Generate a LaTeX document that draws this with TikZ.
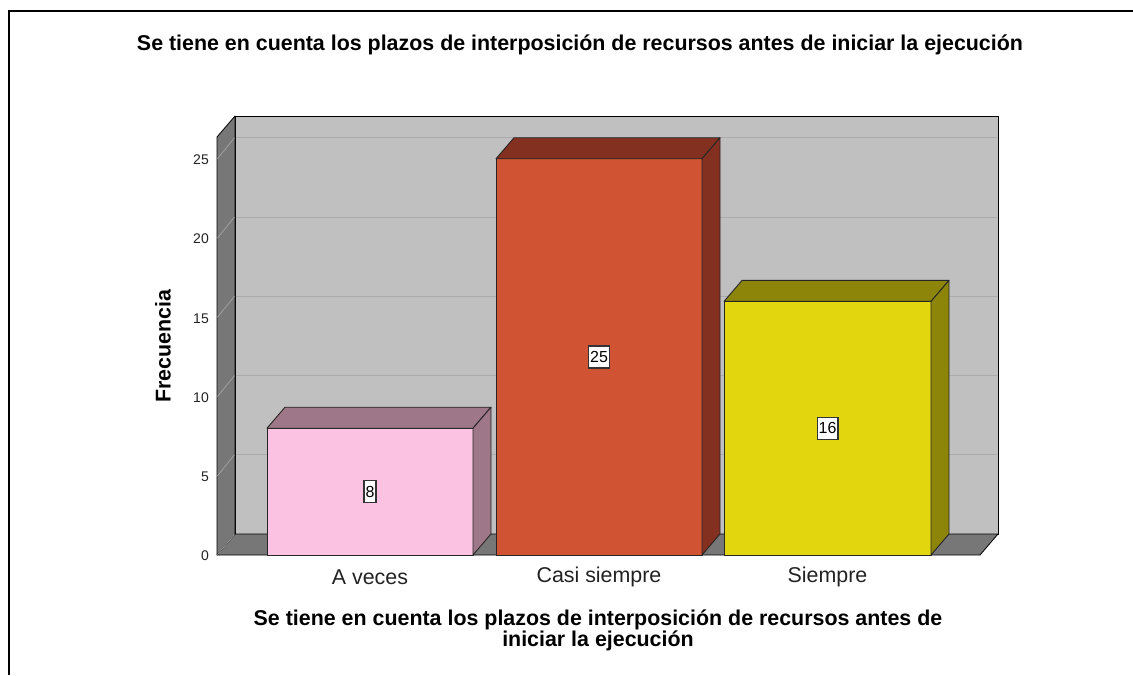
\documentclass[tikz,border=0pt]{standalone}
\usepackage{fontspec}
\setmainfont{Liberation Sans}
\definecolor{wallgray}{HTML}{C0C0C0}
\definecolor{sidegray}{HTML}{777777}
\definecolor{gridgray}{HTML}{ABABAB}
\definecolor{sidegrid}{HTML}{A0A0A0}
\definecolor{pinkfront}{HTML}{FCC2E2}
\definecolor{pinkside}{HTML}{9E7888}
\definecolor{redfront}{HTML}{D05433}
\definecolor{redside}{HTML}{843020}
\definecolor{yelfront}{HTML}{E2D60F}
\definecolor{yelside}{HTML}{8C850A}
\definecolor{labgray}{HTML}{222222}
\tikzset{
  panel/.style={draw=black, line width=0.8pt, line join=round},
  gridline/.style={draw=gridgray, line width=1pt},
  sidegridline/.style={draw=sidegrid, line width=0.8pt},
  barface/.style={draw=black!85, line width=0.9pt, line join=round},
  valbox/.style={draw=black!80, fill=white, line width=1.2pt, inner sep=1.5pt, minimum height=22pt, font=\fontsize{16}{18}\selectfont},
  ticklab/.style={anchor=east, inner sep=0pt, font=\fontsize{14}{16}\selectfont, text=labgray},
  catlab/.style={font=\fontsize{21.4}{24}\selectfont, text=labgray},
  boldlab/.style={font=\bfseries\fontsize{21.4}{20}\selectfont},
}
\newcommand\cubebar[5]{%
  \filldraw[barface, fill=#4] (#1,555) rectangle (#2,#3);
  \filldraw[barface, fill=#5] (#1,#3) -- ++(18,-21) -- ({#2+18},{#3-21}) -- (#2,#3) -- cycle;
  \filldraw[barface, fill=#5] (#2,555) -- (#2,#3) -- ({#2+18},{#3-21}) -- ({#2+18},534) -- cycle;
}
\begin{document}
\begin{tikzpicture}[x=1pt,y=-1pt]
\useasboundingbox (0,0) rectangle (1133,675);
% outer frame
\draw[line width=2pt] (1133,11) -- (9,11) -- (9,675);
% title
\node[boldlab] (title) at (580,45) {Se tiene en cuenta los plazos de interposición de recursos antes de iniciar la ejecución};
% back wall
\filldraw[panel, fill=wallgray] (235,116) rectangle (998,534);
% floor
\filldraw[panel, fill=sidegray] (217,555) -- (980,555) -- (998,534) -- (235,534) -- cycle;
% side wall
\filldraw[panel, fill=sidegray] (217,555) -- (217,137) -- (235,116) -- (235,534) -- cycle;
% gridlines
\foreach \v in {5,10,15,20,25}{
  \draw[gridline] (236,{534-15.85*\v}) -- (997,{534-15.85*\v});
  \draw[sidegridline] (217.5,{555-15.85*\v}) -- (234.5,{534-15.85*\v});
}
\draw[sidegridline] (217.5,554.5) -- (234.5,534.5);
% tick labels
\foreach \v in {0,5,10,15,20,25}{
  \node[ticklab] (t\v) at (209,{556-15.85*\v}) {\v};
}
% bars
\cubebar{267}{473}{428.2}{pinkfront}{pinkside}
\cubebar{496}{702}{158.75}{redfront}{redside}
\cubebar{724}{931}{301.4}{yelfront}{yelside}
% value labels
\node[valbox] (v8) at (370,491.6) {8};
\node[valbox] (v25) at (599,356.9) {25};
\node[valbox] (v16) at (827.5,428.2) {16};
% category labels
\node[catlab] (c1) at (370,577) {A veces};
\node[catlab] (c2) at (599,577) {Casi siempre};
\node[catlab] (c3) at (827.5,577) {Siempre};
% axis titles
\node[boldlab, rotate=90] (ylab) at (163,346) {Frecuencia};
\node[boldlab, align=center] (xlab) at (598,630) {Se tiene en cuenta los plazos de interposición de recursos antes de\\iniciar la ejecución};
\end{tikzpicture}
\end{document}
